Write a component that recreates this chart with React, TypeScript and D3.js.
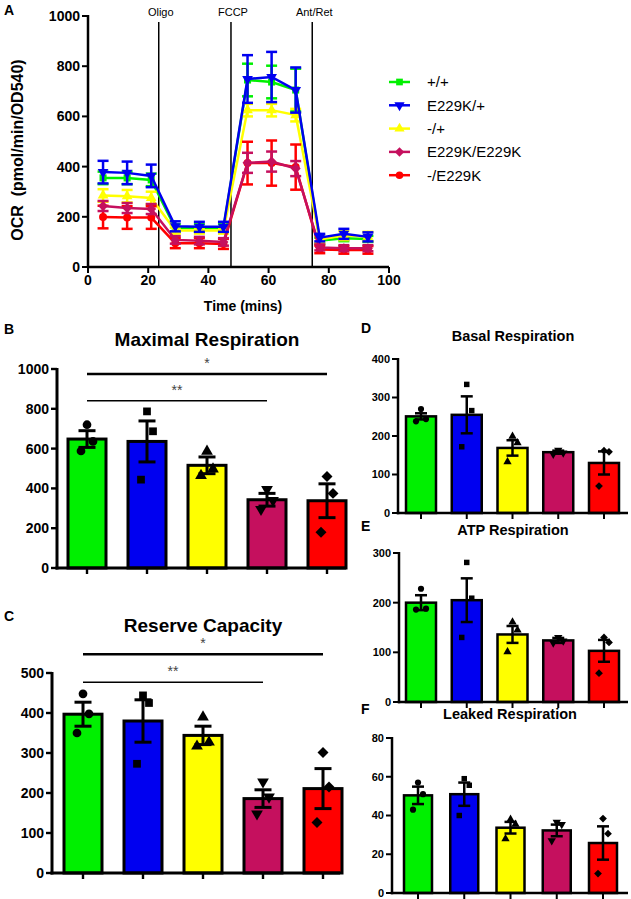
import React from 'react';
import * as d3 from 'd3';

// ---------- DATA ----------
const groups = ['+/+', 'E229K/+', '-/+', 'E229K/E229K', '-/E229K'];
const groupColors = ['#00f000', '#0000f0', '#ffff00', '#c5105e', '#ff0000'];
const lineShapes = ['square', 'triangleDown', 'triangle', 'diamond', 'circle'];
const barShapes = ['circle', 'square', 'triangle', 'triangleDown', 'diamond'];

const times = [5, 13, 21, 29, 37, 45, 53, 61, 69, 77, 85, 93];
const ocrWT = [355, 355, 347, 155, 155, 155, 745, 737, 705, 105, 115, 112];
const ocrE229KHet = [378, 375, 363, 162, 160, 160, 749, 757, 705, 117, 132, 120];
const ocrNullHet = [285, 282, 275, 145, 145, 145, 625, 625, 605, 110, 125, 122];
const ocrE229KHom = [243, 235, 231, 108, 105, 100, 415, 420, 392, 78, 75, 75];
const ocrNullE229K = [199, 197, 197, 95, 95, 92, 414, 414, 398, 70, 68, 68];
const semWT = [25, 25, 25, 15, 15, 15, 65, 65, 85, 12, 12, 12];
const semE229KHet = [45, 45, 45, 20, 20, 20, 95, 100, 90, 15, 20, 18];
const semNullHet = [25, 25, 25, 12, 12, 12, 25, 25, 25, 15, 18, 18];
const semE229KHom = [20, 20, 20, 15, 15, 15, 40, 40, 30, 12, 12, 12];
const semNullE229K = [45, 45, 45, 20, 20, 20, 85, 90, 90, 15, 15, 15];
const injectionTimes = [23.5, 47.5, 74.5];
const injectionLabels = ['Oligo', 'FCCP', 'Ant/Ret'];
const ocrTicks = [0, 200, 400, 600, 800, 1000];
const timeTicks = [0, 20, 40, 60, 80, 100];

const maxMeans = [648, 636, 516, 343, 338];
const maxSem = [42, 103, 42, 32, 85];
const maxPoints = [[720, 636, 588], [787, 687, 444], [586, 497, 464], [395, 340, 295], [460, 375, 180]];
const maxSigLevels = [975, 840];
const maxTicks = [0, 200, 400, 600, 800, 1000];

const resMeans = [397, 380, 344, 186, 211];
const resSem = [30, 53, 23, 22, 50];
const resPoints = [[448, 398, 350], [444, 425, 273], [390, 327, 317], [228, 190, 148], [301, 215, 126]];
const resSigLevels = [547, 477];
const resTicks = [0, 100, 200, 300, 400, 500];

const basalMeans = [251, 255, 169, 158, 130];
const basalSem = [8, 48, 20, 4, 30];
const basalPoints = [[270, 244, 238], [334, 266, 172], [199, 182, 133], [163, 156, 153], [162, 159, 70]];
const basalTicks = [0, 100, 200, 300, 400];

const atpMeans = [200, 205, 136, 124, 103];
const atpSem = [15, 44, 17, 5, 22];
const atpPoints = [[228, 188, 186], [281, 209, 130], [161, 145, 101], [130, 123, 119], [130, 120, 58]];
const atpTicks = [0, 100, 200, 300];

const leakMeans = [50.4, 51, 33.7, 32.3, 25.8];
const leakSem = [4.5, 6, 3, 3, 8.6];
const leakPoints = [[57, 51, 43], [59, 55.6, 40], [38, 35.4, 28], [36.6, 35.4, 27], [38.4, 30.6, 10]];
const leakTicks = [0, 20, 40, 60, 80];

const ocrSeries = [ocrWT, ocrE229KHet, ocrNullHet, ocrE229KHom, ocrNullE229K];
const semSeries = [semWT, semE229KHet, semNullHet, semE229KHom, semNullE229K];

// ---------- HELPERS ----------
const FONT = 'Liberation Sans, Arial, sans-serif';

function Marker({ shape, x, y, size, fill }: any) {
  let type: any = d3.symbolSquare;
  let rot = 0;
  if (shape === 'circle') type = d3.symbolCircle;
  if (shape === 'triangle') type = d3.symbolTriangle;
  if (shape === 'triangleDown') { type = d3.symbolTriangle; rot = 180; }
  if (shape === 'diamond') { type = d3.symbolSquare; rot = 45; }
  const p = d3.symbol(type, size)() as string;
  return <path d={p} fill={fill} transform={`translate(${x},${y}) rotate(${rot})`} />;
}

function BarPanel({ cfg, means, sems, points, ticks, sigs, title, letter }: any) {
  const y = d3.scaleLinear().domain([0, ticks[ticks.length - 1]]).range([cfg.y0, cfg.yTop]);
  const x = d3.scalePoint<string>().domain(groups).range([cfg.c0, cfg.c1]);
  const jitter = [0, cfg.jit, -cfg.jit];
  return (
    <g>
      <text x={cfg.letterX} y={cfg.letterY} fontFamily={FONT} fontWeight="bold" fontSize={cfg.letterSize}>{letter}</text>
      <text x={cfg.titleX} y={cfg.titleY} textAnchor="middle" fontFamily={FONT} fontWeight="bold" fontSize={cfg.titleSize}>{title}</text>
      {groups.map((g, i) => {
        const cx = x(g) as number;
        return (
          <rect key={g} x={cx - cfg.barW / 2} y={y(means[i])} width={cfg.barW} height={cfg.y0 - y(means[i])}
            fill={groupColors[i]} stroke="#000" strokeWidth={cfg.sw} />
        );
      })}
      {groups.map((g, i) => {
        const cx = x(g) as number;
        return (
          <g key={'e' + g}>
            {points[i].map((v: number, j: number) => (
              <Marker key={j} shape={barShapes[i]} x={cx + jitter[j]} y={y(v)} size={cfg.ms} fill="#000" />
            ))}
            <line x1={cx} x2={cx} y1={y(means[i] + sems[i])} y2={y(means[i] - sems[i])} stroke="#000" strokeWidth={cfg.sw} />
            <line x1={cx - cfg.capW / 2} x2={cx + cfg.capW / 2} y1={y(means[i] + sems[i])} y2={y(means[i] + sems[i])} stroke="#000" strokeWidth={cfg.sw} />
            <line x1={cx - cfg.capW / 2} x2={cx + cfg.capW / 2} y1={y(means[i] - sems[i])} y2={y(means[i] - sems[i])} stroke="#000" strokeWidth={cfg.sw} />
          </g>
        );
      })}
      {/* axes */}
      <line x1={cfg.axisX} x2={cfg.axisX} y1={cfg.yTop - 1} y2={cfg.y0 + cfg.sw / 2} stroke="#000" strokeWidth={cfg.sw} />
      <line x1={cfg.axisX - cfg.sw / 2} x2={cfg.axisEnd} y1={cfg.y0} y2={cfg.y0} stroke="#000" strokeWidth={cfg.sw} />
      {ticks.map((t: number) => (
        <g key={t}>
          <line x1={cfg.axisX - 6} x2={cfg.axisX} y1={y(t)} y2={y(t)} stroke="#000" strokeWidth={cfg.sw * 0.8} />
          <text x={cfg.axisX - 8} y={y(t)} dy="0.36em" textAnchor="end" fontFamily={FONT} fontWeight="bold" fontSize={cfg.tickSize}>{t}</text>
        </g>
      ))}
      {groups.map((g) => (
        <line key={'t' + g} x1={x(g)} x2={x(g)} y1={cfg.y0} y2={cfg.y0 + 6} stroke="#000" strokeWidth={cfg.sw * 0.8} />
      ))}
      {sigs && sigs.map((s: any, k: number) => {
        const x1 = x(groups[s.from]) as number;
        const x2 = x(groups[s.to]) as number;
        const yy = y(s.level);
        return (
          <g key={'s' + k}>
            <line x1={x1} x2={x2} y1={yy} y2={yy} stroke="#000" strokeWidth={s.w} />
            <text x={(x1 + x2) / 2} y={yy - 6} textAnchor="middle" fontFamily={FONT} fontSize={14} fill="#444">{s.label}</text>
          </g>
        );
      })}
    </g>
  );
}

function PanelA() {
  const x = d3.scaleLinear().domain([0, 100]).range([88, 389]);
  const y = d3.scaleLinear().domain([0, 1000]).range([267, 16]);
  const line = d3.line<number>().x((_, i) => x(times[i])).y((d) => y(d));
  const order = [0, 2, 4, 3, 1];
  return (
    <g>
      <text x={4} y={15} fontFamily={FONT} fontWeight="bold" fontSize={14}>A</text>
      {injectionTimes.map((t, i) => (
        <g key={t}>
          <line x1={x(t)} x2={x(t)} y1={22} y2={267} stroke="#000" strokeWidth={1.5} />
          <text x={x(t) + 2} y={16} textAnchor="middle" fontFamily={FONT} fontSize={11}>{injectionLabels[i]}</text>
        </g>
      ))}
      {order.map((s) => (
        <g key={s}>
          <path d={line(ocrSeries[s]) as string} fill="none" stroke={groupColors[s]} strokeWidth={2.5} />
          {ocrSeries[s].map((v, i) => {
            const e = semSeries[s][i];
            const cx = x(times[i]);
            return (
              <g key={i}>
                <line x1={cx} x2={cx} y1={y(v + e)} y2={y(v - e)} stroke={groupColors[s]} strokeWidth={2.5} />
                <line x1={cx - 5.5} x2={cx + 5.5} y1={y(v + e)} y2={y(v + e)} stroke={groupColors[s]} strokeWidth={2.5} />
                <line x1={cx - 5.5} x2={cx + 5.5} y1={y(v - e)} y2={y(v - e)} stroke={groupColors[s]} strokeWidth={2.5} />
                <Marker shape={lineShapes[s]} x={cx} y={y(v)} size={50} fill={groupColors[s]} />
              </g>
            );
          })}
        </g>
      ))}
      <line x1={88} x2={88} y1={15} y2={268} stroke="#000" strokeWidth={2.5} />
      <line x1={87} x2={389} y1={267} y2={267} stroke="#000" strokeWidth={2.5} />
      {ocrTicks.map((t) => (
        <g key={t}>
          <line x1={82} x2={88} y1={y(t)} y2={y(t)} stroke="#000" strokeWidth={2} />
          <text x={80} y={y(t)} dy="0.36em" textAnchor="end" fontFamily={FONT} fontWeight="bold" fontSize={14}>{t}</text>
        </g>
      ))}
      {timeTicks.map((t) => (
        <g key={t}>
          <line x1={x(t)} x2={x(t)} y1={267} y2={273} stroke="#000" strokeWidth={2} />
          <text x={x(t)} y={285} textAnchor="middle" fontFamily={FONT} fontWeight="bold" fontSize={14}>{t}</text>
        </g>
      ))}
      <text x={243} y={311} textAnchor="middle" fontFamily={FONT} fontWeight="bold" fontSize={14}>Time (mins)</text>
      <text transform="translate(23,150) rotate(-90)" textAnchor="middle" fontFamily={FONT} fontWeight="bold" fontSize={16} style={{ whiteSpace: 'pre' }}>{'OCR  (pmol/min/OD540)'}</text>
      {/* legend */}
      {groups.map((g, i) => {
        const ly = 82 + i * 23.3;
        return (
          <g key={g}>
            <line x1={389} x2={410} y1={ly} y2={ly} stroke={groupColors[i]} strokeWidth={2.5} />
            <Marker shape={lineShapes[i]} x={399.5} y={ly} size={45} fill={groupColors[i]} />
            <text x={427} y={ly} dy="0.36em" fontFamily={FONT} fontSize={15}>{g}</text>
          </g>
        );
      })}
    </g>
  );
}

const cfgB = { axisX: 57, axisEnd: 346, y0: 568, yTop: 369, c0: 87, c1: 327, barW: 38, sw: 3, capW: 17, ms: 60, jit: 6, tickSize: 14, titleSize: 19, titleX: 207, titleY: 346, letterX: 4, letterY: 334, letterSize: 14 };
const cfgC = { axisX: 52, axisEnd: 340, y0: 873, yTop: 673, c0: 83, c1: 323, barW: 38, sw: 3, capW: 17, ms: 60, jit: 6, tickSize: 14, titleSize: 19, titleX: 203, titleY: 632, letterX: 4, letterY: 621, letterSize: 14 };
const cfgD = { axisX: 398, axisEnd: 628, y0: 513, yTop: 359, c0: 421, c1: 604, barW: 30, sw: 2.5, capW: 12, ms: 30, jit: 5, tickSize: 11, titleSize: 14.5, titleX: 513, titleY: 341, letterX: 361, letterY: 333, letterSize: 14 };
const cfgE = { axisX: 399, axisEnd: 628, y0: 702, yTop: 553, c0: 421, c1: 604, barW: 30, sw: 2.5, capW: 12, ms: 30, jit: 5, tickSize: 11, titleSize: 14.5, titleX: 513, titleY: 535, letterX: 361, letterY: 531, letterSize: 14 };
const cfgF = { axisX: 392, axisEnd: 628, y0: 893, yTop: 738, c0: 418, c1: 603, barW: 28, sw: 2.5, capW: 12, ms: 30, jit: 5, tickSize: 11, titleSize: 14.5, titleX: 510, titleY: 719, letterX: 361, letterY: 714, letterSize: 14 };

export default function App() {
  return (
    <svg width={631} height={899} style={{ position: 'absolute', left: 0, top: 0, background: '#fff' }}>
      <rect width={631} height={899} fill="#fff" />
      <PanelA />
      <BarPanel cfg={cfgB} means={maxMeans} sems={maxSem} points={maxPoints} ticks={maxTicks} title="Maximal Respiration" letter="B"
        sigs={[{ from: 0, to: 4, level: maxSigLevels[0], label: '*', w: 2.5 }, { from: 0, to: 3, level: maxSigLevels[1], label: '**', w: 1.5 }]} />
      <BarPanel cfg={cfgC} means={resMeans} sems={resSem} points={resPoints} ticks={resTicks} title="Reserve Capacity" letter="C"
        sigs={[{ from: 0, to: 4, level: resSigLevels[0], label: '*', w: 2.5 }, { from: 0, to: 3, level: resSigLevels[1], label: '**', w: 1.5 }]} />
      <BarPanel cfg={cfgD} means={basalMeans} sems={basalSem} points={basalPoints} ticks={basalTicks} title="Basal Respiration" letter="D" />
      <BarPanel cfg={cfgE} means={atpMeans} sems={atpSem} points={atpPoints} ticks={atpTicks} title="ATP Respiration" letter="E" />
      <BarPanel cfg={cfgF} means={leakMeans} sems={leakSem} points={leakPoints} ticks={leakTicks} title="Leaked Respiration" letter="F" />
    </svg>
  );
}
